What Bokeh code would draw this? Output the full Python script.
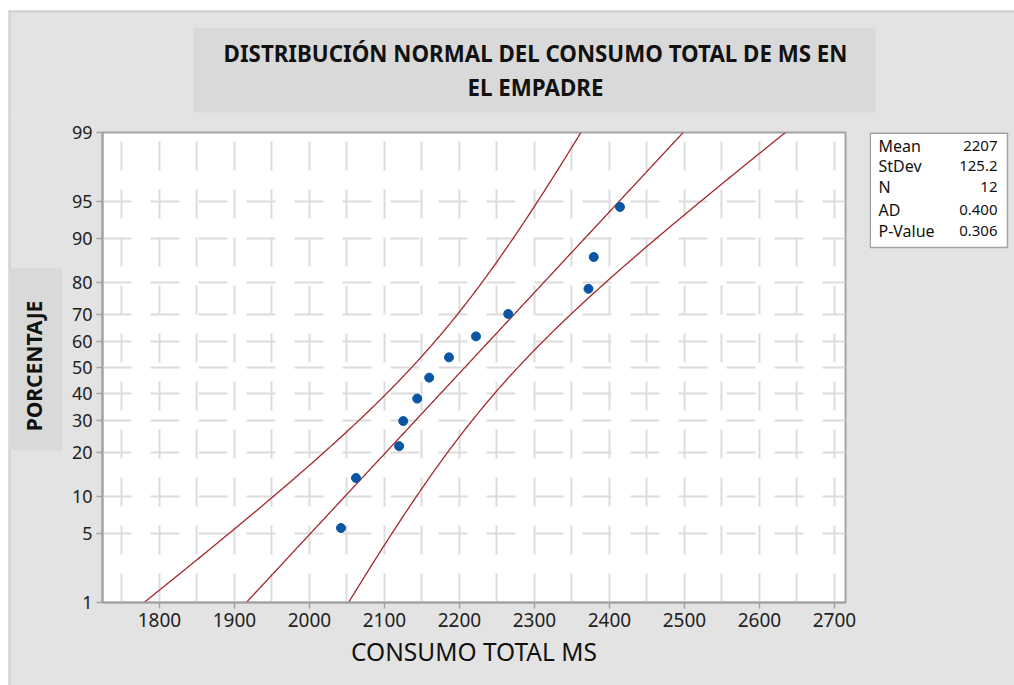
import numpy as np
from statistics import NormalDist
from bokeh.plotting import figure
from bokeh.models import Range1d, FixedTicker, Label, Spacer
from bokeh.layouts import column, row
from bokeh.embed import file_html
from bokeh.resources import INLINE

# ---- data ----
consumo = [2042, 2062, 2119.5, 2125, 2143.6, 2159.6, 2186, 2222, 2265, 2372, 2379, 2414]
porcentaje = [5.6, 13.7, 21.8, 29.8, 37.9, 46.0, 54.0, 62.1, 70.2, 78.2, 86.3, 94.4]
y_tick_pct = [1, 5, 10, 20, 30, 40, 50, 60, 70, 80, 90, 95, 99]
x_ticks = [1800, 1900, 2000, 2100, 2200, 2300, 2400, 2500, 2600, 2700]
stat_names = ["Mean", "StDev", "N", "AD", "P-Value"]
stat_values = ["2207", "125.2", "12", "0.400", "0.306"]
mean, stdev, n = 2207.0, 125.2, 12
title_lines = ["DISTRIBUCIÓN NORMAL DEL CONSUMO TOTAL DE MS EN", "EL EMPADRE"]
x_label = "CONSUMO TOTAL MS"
y_label = "PORCENTAJE"

nd = NormalDist()
def zq(p):
    return round(nd.inv_cdf(p / 100.0), 6)

pts_z = [zq(p) for p in porcentaje]
tick_z = [zq(p) for p in y_tick_pct]

# fitted line and 95% confidence bands for the percentiles
zz = np.linspace(zq(1), zq(99), 200)
fit = mean + stdev * zz
se = stdev / np.sqrt(n) * np.sqrt(1 + zz ** 2 / 2)
lower = fit - 1.96 * se
upper = fit + 1.96 * se

BG = "#e3e3e3"
BOX = "#d9d9d9"
EDGE = "#d0d0d0"
FONT = "Noto Sans"
TOP_H = 106

# ---------------- main plot ----------------
p = figure(width=807, height=675 - TOP_H, output_backend="svg", toolbar_location=None,
           x_range=Range1d(1724, 2714.7), y_range=Range1d(zq(1), zq(99)),
           min_border_left=40, min_border_right=24, min_border_top=16,
           min_border_bottom=83, frame_align=False)
p.border_fill_color = BG
p.background_fill_color = "white"
p.outline_line_color = "#a3a3a3"
p.outline_line_width = 2

red = "#a3282c"
for xs in (lower, fit, upper):
    p.line(xs, zz, line_color=red, line_width=1.3)
p.scatter(consumo, pts_z, size=9, marker="circle", fill_color="#0a56a5", line_color="#0a56a5")

p.xaxis.ticker = FixedTicker(ticks=x_ticks)
p.yaxis.ticker = FixedTicker(ticks=tick_z)
p.yaxis.major_label_overrides = {z: str(v) for z, v in zip(tick_z, y_tick_pct)}
for ax in (p.xaxis[0], p.yaxis[0]):
    ax.axis_line_color = "#a3a3a3"
    ax.axis_line_width = 2
    ax.major_tick_line_color = "#a3a3a3"
    ax.major_tick_line_width = 1.5
    ax.major_tick_in = 0
    ax.major_tick_out = 6
    ax.minor_tick_line_color = None
    ax.major_label_text_font = FONT
    ax.major_label_text_color = "#222222"
    ax.major_label_standoff = 4
p.xaxis.major_label_text_font_size = "19px"
p.yaxis.major_label_text_font_size = "18px"
p.xaxis.axis_label = x_label
p.xaxis.axis_label_text_font = FONT
p.xaxis.axis_label_text_font_style = "normal"
p.xaxis.axis_label_text_font_size = "24.5px"
p.xaxis.axis_label_text_color = "#111111"
p.xaxis.axis_label_standoff = 5

p.xgrid.ticker = FixedTicker(ticks=list(range(1750, 2701, 50)))
p.ygrid.ticker = FixedTicker(ticks=tick_z)
for g in (p.xgrid[0], p.ygrid[0]):
    g.grid_line_color = "#dcdcdc"
    g.grid_line_width = 2
    g.grid_line_dash = "29 19"

# ---------------- helper panels (full-frame figures) ----------------
def panel(w, h):
    f = figure(width=w, height=h, output_backend="svg", toolbar_location=None,
               x_range=Range1d(0, w), y_range=Range1d(0, h),
               x_axis_type=None, y_axis_type=None, min_border=0, frame_align=False)
    f.background_fill_color = BG
    f.border_fill_color = BG
    f.outline_line_color = None
    f.xgrid.visible = False
    f.ygrid.visible = False
    f.title.visible = False
    return f

def box(f, h, l, r, t, b, color, line=None):
    # t, b measured from the panel's top edge
    f.quad(left=[l], right=[r], top=[h - t], bottom=[h - b], fill_color=color,
           line_color=line, line_width=1.5)

def lab(f, h, x, y, text, size, style="normal", align="left", baseline="alphabetic", angle=0):
    f.add_layout(Label(x=x, y=h - y, text=text, text_font=FONT, text_font_size=size,
                       text_font_style=style, text_align=align,
                       text_baseline=baseline, angle=angle, text_color="#111111"))

# title strip
th = TOP_H
t = panel(1006, th)
box(t, th, 0, 1006, 0, 2, EDGE)
box(t, th, 0, 2, 0, th, EDGE)
box(t, th, 185, 867, 17, 102, BOX)
lab(t, th, 527, 43, title_lines[0], "22.3px", "bold", "center")
lab(t, th, 527, 77, title_lines[1], "22.3px", "bold", "center")

# left strip with y label (panel top is at inner y = TOP_H)
rh = 675 - TOP_H
off = TOP_H
lf = panel(54, rh)
box(lf, rh, 0, 2, 0, rh, EDGE)
box(lf, rh, 0, 54, 258 - off, 440 - off, BOX)
lab(lf, rh, 25, 355.5 - off, y_label, "21px", "bold", "center", "alphabetic", np.pi / 2)

# right strip with statistics box
rf = panel(145, rh)
box(rf, rh, 0.75, 138, 122.75 - off, 237 - off, "white", "#a3a3a3")
ybase = [135, 155, 176, 199, 220]
for nm, val, yb in zip(stat_names, stat_values, ybase):
    lab(rf, rh, 9, yb - off, nm, "16px")
    lab(rf, rh, 128, yb - off, val, "15px", align="right")

inner = column(t, row(lf, p, rf, styles={"background-color": BG}),
               styles={"background-color": BG})
layout = column(Spacer(width=1014, height=10), row(Spacer(width=8, height=675), inner))
open("out.html", "w").write(file_html(layout, INLINE))
